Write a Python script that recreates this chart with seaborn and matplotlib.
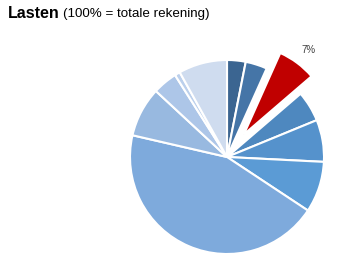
import matplotlib
matplotlib.use("Agg")
import matplotlib.pyplot as plt
import seaborn as sns

sns.set_style("white")
plt.rcParams['font.family'] = ['Liberation Sans', 'DejaVu Sans']

# data (percent of total bill), clockwise from 12 o'clock
categories = ["A", "B", "C", "D", "E", "F", "G", "H", "I", "J", "K"]
values = [3.1, 3.6, 7.0, 5.1, 7.0, 8.5, 44.3, 8.3, 4.1, 0.9, 8.1]
labels = ["", "", "7%", "", "", "", "", "", "", "", ""]
colors = ["#3b6591", "#4575a7", "#c00000", "#4e88bf", "#5592cc", "#5b9bd5",
          "#7eaadc", "#98b9e0", "#adc6e8", "#bcd0ec", "#cfdcef"]
highlight = 2

W, H = 361, 272
fig = plt.figure(figsize=(W / 100, H / 100), dpi=100)
ax = fig.add_axes([0, 0, 1, 1])
R = 97.0
cx, cy = 227.0, 115.0

explode = [0.29 if i == highlight else 0 for i in range(len(values))]
wedges, _ = ax.pie(values, colors=colors, startangle=90, counterclock=False,
                   explode=explode, radius=1.0,
                   wedgeprops=dict(edgecolor="white", linewidth=1.5))
wedges[highlight].set_radius(0.92)

ax.set_xlim(-cx / R, (W - cx) / R)
ax.set_ylim(-cy / R, (H - cy) / R)
ax.set_aspect("auto")
ax.axis("off")

ax.text((309 - cx) / R, (H - 50 - cy) / R, labels[highlight], fontsize=7,
        color="#404040", ha="center", va="center")

fig.text(8 / W, 1 - 14 / H, "Lasten", fontsize=11.5, fontweight="bold",
         ha="left", va="center", color="black")
fig.text(63 / W, 1 - 14.5 / H, "(100% = totale rekening)", fontsize=9.6,
         ha="left", va="center", color="black")

fig.savefig("out.png", dpi=100)
